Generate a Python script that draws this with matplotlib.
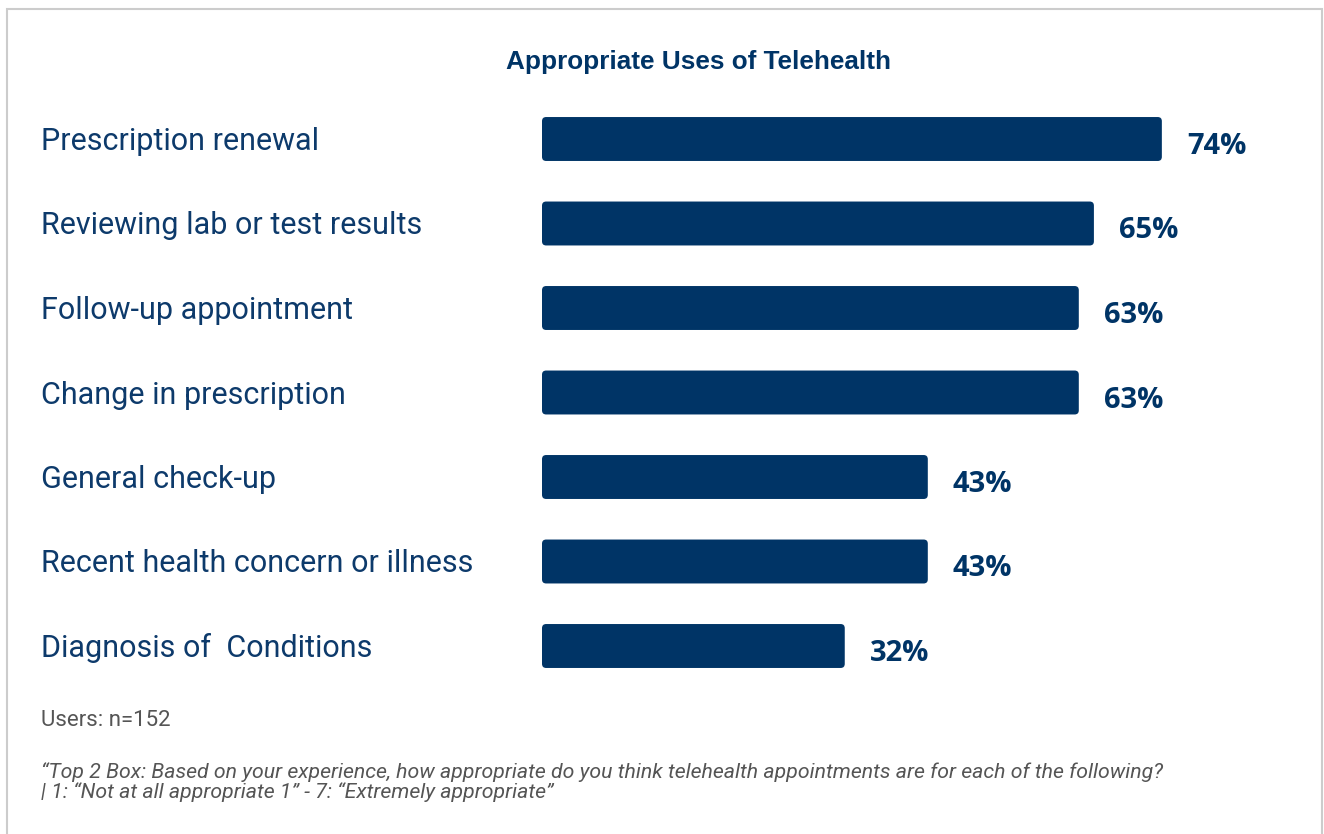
import matplotlib.pyplot as plt
from matplotlib.patches import FancyBboxPatch, Rectangle

categories = [
    'Prescription renewal',
    'Reviewing lab or test results',
    'Follow-up appointment',
    'Change in prescription',
    'General check-up',
    'Recent health concern or illness',
    'Diagnosis of  Conditions',
]
values = [74, 65, 63, 63, 43, 43, 32]
value_labels = ['74%', '65%', '63%', '63%', '43%', '43%', '32%']

title = 'Appropriate Uses of Telehealth'
base_note = 'Users: n=152'
question = ('\u201cTop 2 Box: Based on your experience, how appropriate do you think telehealth appointments are for each of the following?\n'
            '| 1: \u201cNot at all appropriate 1\u201d - 7: \u201cExtremely appropriate\u201d')

navy = '#003466'
label_color = '#0d3a6b'
gray = '#555555'
bar_base = -8.1  # bars start a bit left of the zero point

W, H = 1324, 834
fig = plt.figure(figsize=(W / 100, H / 100), dpi=100)
fig.patch.set_facecolor('white')

# light frame around the chart (open at the bottom)
fig.add_artist(Rectangle((7 / W, -0.05), (1322 - 7) / W, 1.05 - 9 / H,
                         transform=fig.transFigure, fill=False,
                         edgecolor='#cccccc', linewidth=1.5))

# bar axes, placed so the zero point sits where the reference puts it
left_px, right_px = 542, 1324
top_px, bottom_px = 96.75, 688.25
px_per_x = 7.55
px_per_y = (bottom_px - top_px) / len(values)
ax = fig.add_axes([left_px / W, 1 - bottom_px / H,
                   (right_px - left_px) / W, (bottom_px - top_px) / H])
ax.set_xlim(bar_base, bar_base + (right_px - left_px) / px_per_x)
ax.set_ylim(len(values) - 0.5, -0.5)
ax.axis('off')

# rounded bars
bar_h = 0.52
for i, v in enumerate(values):
    box = FancyBboxPatch((bar_base, i - bar_h / 2), v - bar_base, bar_h,
                         boxstyle='round,pad=0,rounding_size=0.55',
                         mutation_aspect=px_per_x / px_per_y,
                         facecolor=navy, edgecolor='none')
    ax.add_patch(box)
    ax.text(v + 3.3, i + 15 / px_per_y, value_labels[i], ha='left', va='baseline',
            fontsize=21, fontweight='bold', color=navy, family='Open Sans')

# category labels
for i, c in enumerate(categories):
    y = 1 - (top_px + (i + 0.5) * px_per_y + 11) / H
    fig.text(41 / W, y, c, ha='left', va='baseline', fontsize=22,
             color=label_color, family='Roboto')

fig.text(699 / W, 1 - 69 / H, title, ha='center', va='baseline',
         fontsize=18.8, fontweight='bold', color=navy, family='Liberation Sans')

fig.text(41 / W, 1 - 720 / H, base_note, ha='left', va='center',
         fontsize=16, color=gray, family='Roboto')
fig.text(41 / W, 1 - 782 / H, question, ha='left', va='center',
         fontsize=15.3, color=gray, style='italic', family='Roboto',
         linespacing=1.05)

fig.savefig('out.png', dpi=100, facecolor='white')
